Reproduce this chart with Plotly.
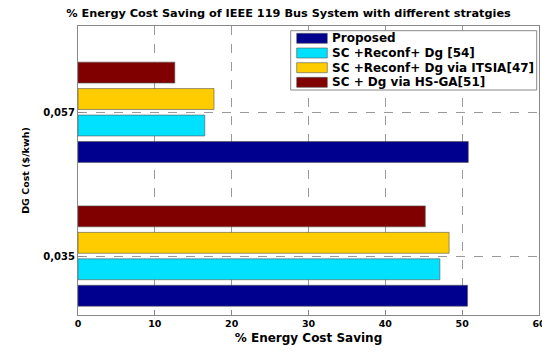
import plotly.graph_objects as go

categories = ["0,035", "0,057"]
series_names = ["Proposed", "SC +Reconf+ Dg [54]", "SC +Reconf+ Dg via ITSIA[47]", "SC + Dg via HS-GA[51]"]
proposed = [50.7, 50.8]
sc_reconf_dg = [47.1, 16.5]
sc_reconf_itsia = [48.3, 17.7]
sc_dg_hsga = [45.2, 12.6]
x_ticks = [0, 10, 20, 30, 40, 50, 60]

colors = ["#00008F", "#00E0FF", "#FFCC00", "#800000"]
values = [proposed, sc_reconf_dg, sc_reconf_itsia, sc_dg_hsga]

# the page body has an 8px margin; lay out in screen pixels and shift by it
OFF = 8
W, H = 550, 356
L, R, T, B = 78 - OFF, 539 - OFF, 26 - OFF, 315 - OFF
def px(x):
    return (x - OFF - L) / (R - L)
def py(y):
    return (B - (y - OFF)) / (B - T)

fig = go.Figure()
for name, vals, col in zip(series_names, values, colors):
    fig.add_trace(go.Bar(
        y=categories, x=vals, name=name, orientation="h",
        marker=dict(color=col, line=dict(color="#555555", width=0.6)),
        showlegend=False,
    ))

font_family = "DejaVu Sans"

# manual legend (MATLAB style wide swatches)
shapes = [dict(type="rect", xref="paper", yref="paper",
               x0=px(290.7), x1=px(536.7), y0=py(90), y1=py(30.7),
               line=dict(color="#888888", width=1), fillcolor="white", layer="above")]
annotations = []
row_y = [38.3, 53.0, 67.7, 82.3]
for name, col, ry in zip(series_names, colors, row_y):
    shapes.append(dict(type="rect", xref="paper", yref="paper",
                       x0=px(296.7), x1=px(327.3), y0=py(ry + 5), y1=py(ry - 5),
                       line=dict(color="#555555", width=0.6), fillcolor=col, layer="above"))
    annotations.append(dict(text=f"<b>{name}</b>", xref="paper", yref="paper",
                            x=px(330), y=py(ry), xanchor="left", yanchor="middle",
                            showarrow=False, font=dict(size=12, family=font_family, color="black")))

fig.update_layout(
    width=W, height=H,
    margin=dict(l=L, r=W - R, t=T, b=H - B, autoexpand=False),
    paper_bgcolor="white", plot_bgcolor="white",
    barmode="group", bargap=0.264, bargroupgap=0.21,
    font=dict(family=font_family, size=11, color="black"),
    title=dict(text="<b>% Energy Cost Saving of IEEE 119 Bus System with different stratgies</b>",
               x=(288.5 - OFF) / W, xanchor="center", y=1 - (13.5 - OFF) / H, yanchor="middle",
               font=dict(size=11.3, family=font_family)),
    showlegend=False,
    shapes=shapes, annotations=annotations,
)
fig.update_xaxes(
    range=[0, 60], tickvals=x_ticks, ticktext=[f"<b>{t}</b>" for t in x_ticks],
    showgrid=True, gridcolor="#999999", griddash="dash", gridwidth=1,
    showline=True, linecolor="#888888", linewidth=1, mirror=True,
    ticks="inside", ticklen=5, tickcolor="#888888",
    zeroline=False, tickfont=dict(size=9.5), automargin=False,
    title=dict(text="<b>% Energy Cost Saving</b>", font=dict(size=12), standoff=5),
)
fig.update_yaxes(
    range=[-0.41, 1.6], tickvals=categories, ticktext=[f"<b>{c}</b>" for c in categories],
    showgrid=True, gridcolor="#999999", griddash="dash", gridwidth=1,
    showline=True, linecolor="#888888", linewidth=1, mirror=True,
    ticks="inside", ticklen=5, tickcolor="#888888",
    tickfont=dict(size=10), automargin=False,
    title=dict(text="<b>DG Cost ($/kwh)</b>", font=dict(size=9.5), standoff=12),
)
fig.write_html("out.html")
